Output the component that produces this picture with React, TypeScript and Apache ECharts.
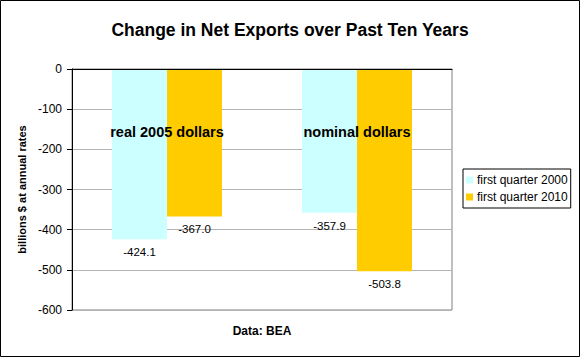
import React, { useEffect, useRef } from "react";
import * as echarts from "echarts";

const categories = ["real 2005 dollars", "nominal dollars"];
const seriesNames = ["first quarter 2000", "first quarter 2010"];
const q2000 = [-424.1, -357.9];
const q2010 = [-367.0, -503.8];
const yMin = -600;
const yMax = 0;
const yInterval = 100;

const FONT = "'Liberation Sans', Arial, sans-serif";

export default function App() {
  const ref = useRef<HTMLDivElement>(null);
  useEffect(() => {
    if (!ref.current) return;
    const chart = echarts.init(ref.current, null, { renderer: "svg" });
    const valueLabel = {
      show: true,
      position: "bottom",
      distance: 7,
      color: "#000",
      fontFamily: FONT,
      fontSize: 11.5,
      formatter: (p: any) => Number(p.value).toFixed(1),
    };
    chart.setOption({
      animation: false,
      backgroundColor: "#fff",
      textStyle: { fontFamily: FONT },
      title: {
        text: "Change in Net Exports over Past Ten Years",
        left: "center",
        top: 16,
        textStyle: { fontFamily: FONT, fontSize: 17.5, fontWeight: "bold", color: "#000" },
      },
      grid: {
        left: 72,
        top: 69,
        width: 380,
        height: 241,
        show: true,
        borderColor: "#808080",
        borderWidth: 1,
        backgroundColor: "transparent",
      },
      legend: {
        orient: "vertical",
        left: 463,
        top: 169,
        padding: [5, 3, 5, 3],
        itemGap: 5,
        itemWidth: 7,
        itemHeight: 7,
        icon: "rect",
        borderColor: "#000",
        borderWidth: 1,
        textStyle: { fontFamily: FONT, fontSize: 12, color: "#000", padding: [0, 0, 0, -1] },
        data: seriesNames,
      },
      xAxis: {
        type: "category",
        position: "top",
        z: 10,
        data: categories,
        axisLine: { show: true, lineStyle: { color: "#000", width: 1 } },
        axisTick: { show: false },
        axisLabel: {
          inside: true,
          margin: 63,
          verticalAlign: "middle",
          fontFamily: FONT,
          fontSize: 14.5,
          fontWeight: "bold",
          color: "#000",
        },
        splitLine: { show: false },
      },
      yAxis: {
        type: "value",
        min: yMin,
        max: yMax,
        interval: yInterval,
        name: "billions $ at annual rates",
        nameLocation: "middle",
        nameGap: 36,
        nameTextStyle: { fontFamily: FONT, fontSize: 11, fontWeight: "bold", color: "#000" },
        axisLine: { show: true, lineStyle: { color: "#000", width: 1 } },
        axisTick: { show: true, length: 5, lineStyle: { color: "#000" } },
        axisLabel: { margin: 10, fontFamily: FONT, fontSize: 12, color: "#000" },
        splitLine: { show: true, lineStyle: { color: "#b4b4b4", width: 1 } },
      },
      series: [
        {
          name: seriesNames[0],
          type: "bar",
          data: q2000,
          barWidth: 55,
          barGap: "0%",
          itemStyle: { color: "#CCFFFF" },
          label: valueLabel,
        },
        {
          name: seriesNames[1],
          type: "bar",
          data: q2010,
          barWidth: 55,
          barGap: "0%",
          itemStyle: { color: "#FFCC00" },
          label: valueLabel,
        },
      ],
      graphic: [
        {
          type: "rect",
          silent: true,
          shape: { x: 0.5, y: 0.5, width: 579, height: 356 },
          style: { fill: "none", stroke: "#000", lineWidth: 1 },
        },
        {
          type: "text",
          silent: true,
          x: 262,
          y: 331,
          style: {
            text: "Data: BEA",
            fontFamily: FONT,
            fontSize: 12,
            fontWeight: "bold",
            fill: "#000",
            align: "center",
            verticalAlign: "middle",
          },
        },
      ],
    });
    return () => chart.dispose();
  }, []);
  return (
    <div
      ref={ref}
      style={{ position: "fixed", left: 0, top: 0, width: 580, height: 357 }}
    />
  );
}
